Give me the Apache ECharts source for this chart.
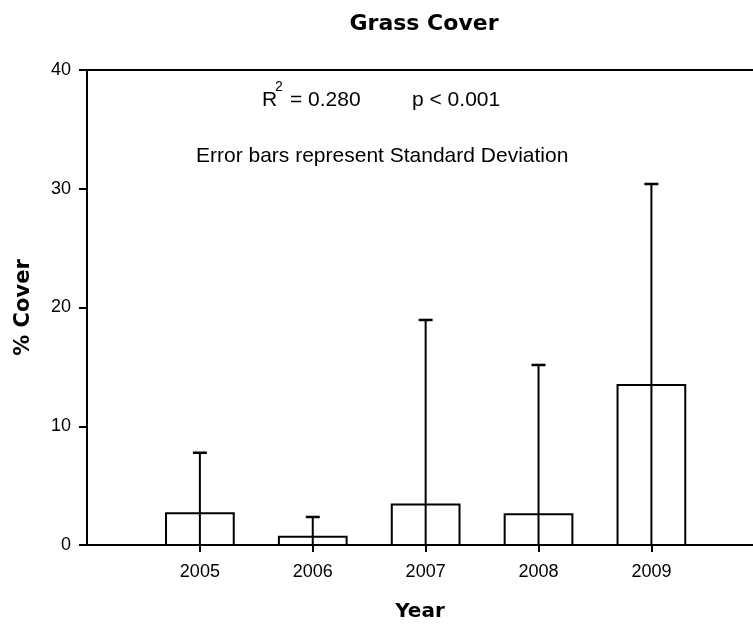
<!DOCTYPE html>
<html>
<head>
<meta charset="utf-8">
<script src="https://cdn.jsdelivr.net/npm/echarts@6/dist/echarts.min.js"></script>
<style>
  html, body { margin: 0; padding: 0; background: #fff; }
  #chart { width: 753px; height: 624px; }
</style>
</head>
<body>
<div id="chart"></div>
<script>
// Survey years and grass cover (mean % and standard deviation)
const years = [2005, 2006, 2007, 2008, 2009];
const meanCover = [2.67, 0.70, 3.42, 2.58, 13.47];
const sdCover = [5.10, 1.66, 15.53, 12.58, 16.93];
const yTicks = [0, 10, 20, 30, 40];

const FONT = '"Liberation Sans", Arial, Helvetica, sans-serif';
const BOLD_FONT = '"DejaVu Sans", "Liberation Sans", Arial, sans-serif';

const rows = years.map((y, i) => [
  y,
  meanCover[i],
  Math.max(0, meanCover[i] - sdCover[i]),
  meanCover[i] + sdCover[i]
]);

function renderBar(params, api) {
  const x = api.value(0);
  const mean = api.value(1);
  const lo = api.value(2);
  const hi = api.value(3);
  const bandW = api.size([1, 0])[0] * 0.6;
  const base = api.coord([x, 0]);
  const top = api.coord([x, mean]);
  const pLo = api.coord([x, lo]);
  const pHi = api.coord([x, hi]);
  const capHalf = 7;
  return {
    type: 'group',
    children: [
      {
        type: 'rect',
        shape: { x: base[0] - bandW / 2, y: top[1], width: bandW, height: base[1] - top[1] },
        style: { fill: '#fff', stroke: '#000', lineWidth: 2 }
      },
      {
        type: 'line',
        shape: { x1: pHi[0], y1: pHi[1], x2: pLo[0], y2: pLo[1] },
        style: { stroke: '#000', lineWidth: 2 }
      },
      {
        type: 'line',
        shape: { x1: pHi[0] - capHalf, y1: pHi[1], x2: pHi[0] + capHalf, y2: pHi[1] },
        style: { stroke: '#000', lineWidth: 2.5 }
      }
    ]
  };
}

const chart = echarts.init(document.getElementById('chart'), null, { renderer: 'canvas' });

chart.setOption({
  animation: false,
  backgroundColor: '#fff',
  grid: {
    left: 87,
    top: 70,
    right: 0,
    height: 475,
    containLabel: false,
    outerBoundsMode: 'none'
  },
  xAxis: [
    {
      type: 'value',
      min: 2004,
      max: 2009.9,
      name: 'Year',
      nameLocation: 'middle',
      nameGap: 57,
      nameTextStyle: { fontFamily: BOLD_FONT, fontWeight: 'bold', fontSize: 20, color: '#000' },
      axisLine: { show: true, lineStyle: { color: '#000', width: 2 } },
      axisTick: { show: true, inside: false, length: 7, customValues: years, lineStyle: { color: '#000', width: 2 } },
      axisLabel: {
        customValues: years,
        margin: 18,
        fontFamily: FONT,
        fontSize: 18,
        color: '#000',
        formatter: v => String(v)
      },
      splitLine: { show: false }
    },
    {
      type: 'value',
      position: 'top',
      min: 2004,
      max: 2009.9,
      axisLine: { show: true, lineStyle: { color: '#000', width: 2 } },
      axisTick: { show: false },
      axisLabel: { show: false },
      splitLine: { show: false }
    }
  ],
  yAxis: {
    type: 'value',
    min: 0,
    max: 40,
    interval: 10,
    name: '% Cover',
    nameLocation: 'middle',
    nameGap: 53,
    nameRotate: 90,
    nameTextStyle: { fontFamily: BOLD_FONT, fontWeight: 'bold', fontSize: 21, color: '#000' },
    axisLine: { show: true, lineStyle: { color: '#000', width: 2 } },
    axisTick: { show: true, inside: false, length: 8, customValues: yTicks, lineStyle: { color: '#000', width: 2 } },
    axisLabel: { customValues: yTicks, margin: 16, fontFamily: FONT, fontSize: 18, color: '#000' },
    splitLine: { show: false }
  },
  graphic: [
    { type: 'text', x: 424, y: 13, style: { text: 'Grass Cover', align: 'center', fontFamily: BOLD_FONT, fontWeight: 'bold', fontSize: 22, fill: '#000' } },
    { type: 'text', left: 262, top: 90, style: { text: 'R', fontFamily: FONT, fontSize: 21, fill: '#000' } },
    { type: 'text', left: 275, top: 80, style: { text: '2', fontFamily: FONT, fontSize: 14, fill: '#000' } },
    { type: 'text', left: 290, top: 90, style: { text: '= 0.280', fontFamily: FONT, fontSize: 21, fill: '#000' } },
    { type: 'text', left: 412, top: 90, style: { text: 'p < 0.001', fontFamily: FONT, fontSize: 21, fill: '#000' } },
    { type: 'text', left: 196, top: 146, style: { text: 'Error bars represent Standard Deviation', fontFamily: FONT, fontSize: 21, fill: '#000' } }
  ],
  series: [
    {
      type: 'custom',
      renderItem: renderBar,
      data: rows,
      encode: { x: 0, y: [1, 2, 3] },
      z: 3
    }
  ]
});
</script>
</body>
</html>
